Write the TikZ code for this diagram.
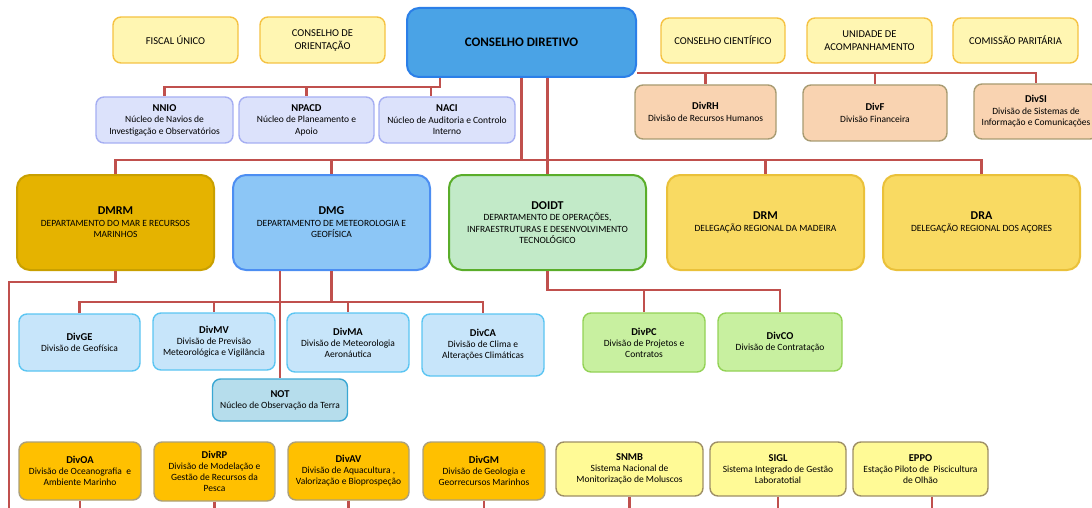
\documentclass[tikz,border=0pt]{standalone}
\usepackage{fontspec}
\setmainfont{Carlito}
\usepackage{xcolor}
\usetikzlibrary{positioning}

\definecolor{linkred}{HTML}{C0504D}
\definecolor{topfill}{HTML}{FFF6B2}
\definecolor{topdraw}{HTML}{F5C242}
\definecolor{cdfill}{HTML}{4AA3E6}
\definecolor{cddraw}{HTML}{2B7FE8}
\definecolor{nucfill}{HTML}{DCE2FB}
\definecolor{nucdraw}{HTML}{A5AEF2}
\definecolor{admfill}{HTML}{F9D3B1}
\definecolor{admdraw}{HTML}{A89B72}
\definecolor{marfill}{HTML}{E5B300}
\definecolor{mardraw}{HTML}{C9A000}
\definecolor{metfill}{HTML}{8CC6F6}
\definecolor{metdraw}{HTML}{4C8EF2}
\definecolor{opfill}{HTML}{C2EAC8}
\definecolor{opdraw}{HTML}{5AAD2A}
\definecolor{delfill}{HTML}{F9DA62}
\definecolor{deldraw}{HTML}{EAC13A}
\definecolor{dmgfill}{HTML}{C7E5FA}
\definecolor{dmgdraw}{HTML}{5BC5F2}
\definecolor{notfill}{HTML}{B6DDEC}
\definecolor{notdraw}{HTML}{3AA7D3}
\definecolor{dopfill}{HTML}{C8F0A0}
\definecolor{dopdraw}{HTML}{93D256}
\definecolor{dmrfill}{HTML}{FFC000}
\definecolor{dmrdraw}{HTML}{ACA07A}
\definecolor{sysfill}{HTML}{FFFA96}
\definecolor{sysdraw}{HTML}{9E8F66}

\newcommand{\sigla}[1]{{\fontsize{10.5}{12}\selectfont\bfseries #1}}
\newcommand{\deptsigla}[1]{{\fontsize{12}{13.5}\selectfont\bfseries #1}}

\tikzset{
  box/.style={rounded corners=8pt, line width=1.4pt, align=center, inner sep=1pt},
  board/.style={box, fill=topfill, draw=topdraw, font=\fontsize{10.5}{13}\selectfont},
  nucleo/.style={box, fill=nucfill, draw=nucdraw, font=\fontsize{9.5}{11.5}\selectfont},
  divadm/.style={box, fill=admfill, draw=admdraw, font=\fontsize{9.5}{11.5}\selectfont},
  dept/.style={box, rounded corners=13pt, line width=2pt, minimum width=197pt,
    minimum height=95pt, font=\fontsize{9.5}{11.5}\selectfont},
  divsub/.style={box, font=\fontsize{9.5}{11}\selectfont},
  link/.style={draw=linkred, line width=2.2pt},
}

\begin{document}
\begin{tikzpicture}[x=1pt, y=-1pt]
  \useasboundingbox (0,0) rectangle (1092,508);
  \clip (0,0) rectangle (1092,508);

  % top row
  \node[board, minimum width=125pt, minimum height=46pt] (fiscal) at (175.5,40) {FISCAL ÚNICO};
  \node[board, minimum width=125pt, minimum height=46pt] (orient) at (322.5,40) {CONSELHO DE\\ORIENTAÇÃO};
  \node[box, fill=cdfill, draw=cddraw, rounded corners=12pt, line width=2pt,
        minimum width=229pt, minimum height=69pt, font=\fontsize{13}{15}\selectfont\bfseries]
        (cd) at (521.5,42.5) {CONSELHO DIRETIVO};
  \node[board, minimum width=124pt, minimum height=45pt] (cient) at (723,40.5) {CONSELHO CIENTÍFICO};
  \node[board, minimum width=125pt, minimum height=45pt] (unid) at (869.5,40.5) {UNIDADE DE\\ACOMPANHAMENTO};
  \node[board, minimum width=125pt, minimum height=45pt] (comis) at (1015.5,40.5) {COMISSÃO PARITÁRIA};

  % nucleos and support divisions
  \node[nucleo, minimum width=137pt, minimum height=46pt] (nnio) at (164.5,120)
    {\sigla{NNIO}\\Núcleo de Navios de\\Investigação e Observatórios};
  \node[nucleo, minimum width=135pt, minimum height=46pt] (npacd) at (306.5,120)
    {\sigla{NPACD}\\Núcleo de Planeamento e\\Apoio};
  \node[nucleo, minimum width=136pt, minimum height=46pt] (naci) at (447,120)
    {\sigla{NACI}\\Núcleo de Auditoria e Controlo\\Interno};
  \node[divadm, minimum width=141pt, minimum height=54pt] (divrh) at (705.5,112)
    {\sigla{DivRH}\\Divisão de Recursos Humanos};
  \node[divadm, minimum width=144pt, minimum height=56pt] (divf) at (875,113)
    {\sigla{DivF}\\Divisão Financeira};
  \node[divadm, minimum width=124pt, minimum height=55pt] (divsi) at (1036,111.5)
    {\sigla{DivSI}\\Divisão de Sistemas de\\Informação e Comunicações};

  % departments
  \node[dept, fill=marfill, draw=mardraw] (dmrm) at (115.5,222.5)
    {\deptsigla{DMRM}\\DEPARTAMENTO DO MAR E RECURSOS\\MARINHOS};
  \node[dept, fill=metfill, draw=metdraw] (dmg) at (331.5,222.5)
    {\deptsigla{DMG}\\DEPARTAMENTO DE METEOROLOGIA E\\GEOFÍSICA};
  \node[dept, fill=opfill, draw=opdraw] (doidt) at (547.5,222.5)
    {\deptsigla{DOIDT}\\DEPARTAMENTO DE OPERAÇÕES,\\INFRAESTRUTURAS E DESENVOLVIMENTO\\TECNOLÓGICO};
  \node[dept, fill=delfill, draw=deldraw] (drm) at (765.5,222.5)
    {\deptsigla{DRM}\\DELEGAÇÃO REGIONAL DA MADEIRA};
  \node[dept, fill=delfill, draw=deldraw] (dra) at (981.5,222.5)
    {\deptsigla{DRA}\\DELEGAÇÃO REGIONAL DOS AÇORES};

  % DMG and DOIDT divisions
  \node[divsub, fill=dmgfill, draw=dmgdraw, minimum width=121pt, minimum height=57pt] (divge) at (79.5,342.5)
    {\sigla{DivGE}\\Divisão de Geofísica};
  \node[divsub, fill=dmgfill, draw=dmgdraw, minimum width=122pt, minimum height=57pt] (divmv) at (214,341.5)
    {\sigla{DivMV}\\Divisão de Previsão\\Meteorológica e Vigilância};
  \node[divsub, fill=dmgfill, draw=dmgdraw, minimum width=122pt, minimum height=59pt] (divma) at (348,342.5)
    {\sigla{DivMA}\\Divisão de Meteorologia\\Aeronáutica};
  \node[divsub, fill=dmgfill, draw=dmgdraw, minimum width=122pt, minimum height=62pt] (divca) at (483,345)
    {\sigla{DivCA}\\Divisão de Clima e\\Alterações Climáticas};
  \node[divsub, fill=notfill, draw=notdraw, minimum width=135pt, minimum height=42pt] (notobs) at (280,400)
    {\sigla{NOT}\\Núcleo de Observação da Terra};
  \node[divsub, fill=dopfill, draw=dopdraw, minimum width=122pt, minimum height=59pt] (divpc) at (644,342.5)
    {\sigla{DivPC}\\Divisão de Projetos e\\Contratos};
  \node[divsub, fill=dopfill, draw=dopdraw, minimum width=124pt, minimum height=58pt] (divco) at (780,342)
    {\sigla{DivCO}\\Divisão de Contratação};

  % DMRM divisions and systems
  \node[divsub, fill=dmrfill, draw=dmrdraw, minimum width=122pt, minimum height=58pt] (divoa) at (80,471)
    {\sigla{DivOA}\\Divisão de Oceanografia\ \ e\\Ambiente Marinho};
  \node[divsub, fill=dmrfill, draw=dmrdraw, minimum width=121pt, minimum height=59pt] (divrp) at (214.5,471.5)
    {\sigla{DivRP}\\Divisão de Modelação e\\Gestão de Recursos da\\Pesca};
  \node[divsub, fill=dmrfill, draw=dmrdraw, minimum width=121pt, minimum height=58pt] (divav) at (348.5,471)
    {\sigla{DivAV}\\Divisão de Aquacultura ,\\Valorização e Bioprospeção};
  \node[divsub, fill=dmrfill, draw=dmrdraw, minimum width=122pt, minimum height=58pt] (divgm) at (484,471)
    {\sigla{DivGM}\\Divisão de Geologia e\\Georrecursos Marinhos};
  \node[divsub, fill=sysfill, draw=sysdraw, minimum width=147pt, minimum height=54pt] (snmb) at (629.5,469)
    {\sigla{SNMB}\\Sistema Nacional de\\Monitorização de Moluscos};
  \node[divsub, fill=sysfill, draw=sysdraw, minimum width=136pt, minimum height=54pt] (sigl) at (778,469)
    {\sigla{SIGL}\\Sistema Integrado de Gestão\\Laboratotial};
  \node[divsub, fill=sysfill, draw=sysdraw, minimum width=135pt, minimum height=54pt] (eppo) at (920.5,469)
    {\sigla{EPPO}\\Estação Piloto de\ \ Piscicultura\\de Olhão};

  % junctions
  \coordinate (jL) at (440,87);
  \coordinate (jN) at (431,87);
  \coordinate (jR) at (1036,73);
  \coordinate (bus) at (0,160);
  \coordinate (dL) at (9,282);
  \coordinate (gbus) at (0,302);
  \coordinate (obus) at (0,290);
  \coordinate (eppox) at (932,0);
  \coordinate (floor) at (0,515);

  % conselho diretivo links
  \draw[link] (cd.south -| jL) -- (jL) -| (nnio.north);
  \draw[link] (jL -| npacd.north) -- (npacd.north);
  \draw[link] (jN) -- (jN |- naci.north);
  \draw[link] (cd.east |- jR) -- (jR) -- (divsi.north);
  \foreach \d in {divrh,divf}
    \draw[link] (\d.north |- jR) -- (\d.north);
  \draw[link] (cd.south) -- (cd.south |- bus);
  \draw[link] (dmrm.north) |- (bus -| dra.north) -- (dra.north);
  \foreach \d in {dmg,drm}
    \draw[link] (\d.north |- bus) -- (\d.north);
  \draw[link] (cd.south -| doidt.north) -- (doidt.north);

  % department links
  \draw[link] (dmrm.south) |- (dL) -- (dL |- floor);
  \draw[link] (dmg.south) -- (dmg.south |- gbus);
  \draw[link] (divge.north) |- (gbus -| divca.north) -- (divca.north);
  \foreach \d in {divmv,divma}
    \draw[link] (\d.north |- gbus) -- (\d.north);
  \draw[link] (dmg.south -| notobs.north) -- (notobs.north);
  \draw[link] (doidt.south) |- (obus -| divco.north) -- (divco.north);
  \draw[link] (divpc.north |- obus) -- (divpc.north);

  % links running off the page
  \foreach \d in {divoa,divrp,divav,divgm,snmb,sigl}
    \draw[link] (\d.south) -- (\d.south |- floor);
  \draw[link] (eppo.south -| eppox) -- (eppox |- floor);
\end{tikzpicture}
\end{document}
